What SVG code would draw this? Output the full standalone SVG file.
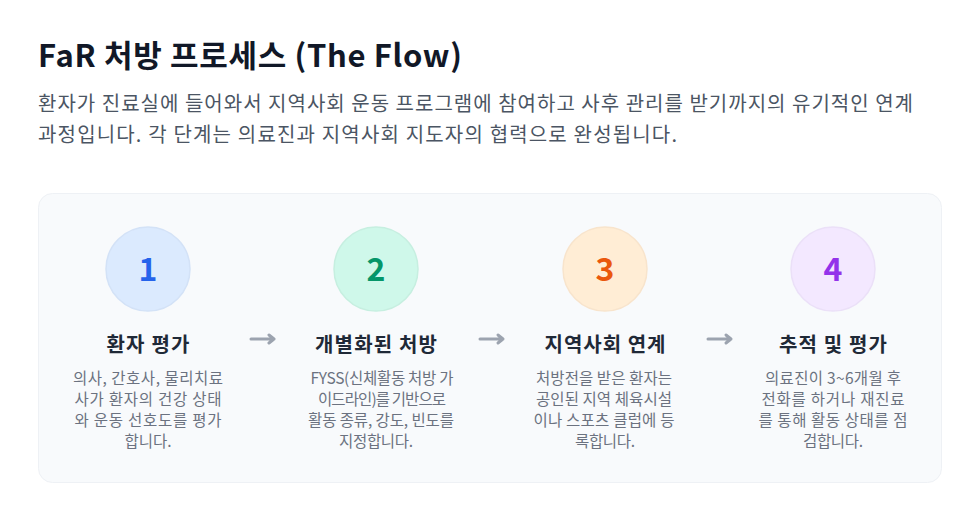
<svg xmlns="http://www.w3.org/2000/svg" width="975" height="507" viewBox="0 0 975 507">
<style>
text{font-family:"Noto Sans CJK KR","Noto Sans",sans-serif}
.h1{font-size:31px;font-weight:700;fill:#111827}
.sub{font-size:20px;fill:#4b5563}
.num{font-size:32px;font-weight:700;text-anchor:middle}
.tt{font-size:20px;font-weight:700;fill:#1f2937;text-anchor:middle}
.ds{font-size:15.5px;fill:#6b7280;text-anchor:middle}
.circ{stroke-width:1.5}
.arr{stroke:#9ca3af;stroke-width:3;fill:none;stroke-linecap:round;stroke-linejoin:round}
</style>
<rect width="975" height="507" fill="#ffffff"/>
<text class="h1" x="38" y="67" textLength="424" lengthAdjust="spacing">FaR 처방 프로세스 (The Flow)</text>
<text class="sub" x="38" y="111" textLength="875" lengthAdjust="spacing">환자가 진료실에 들어와서 지역사회 운동 프로그램에 참여하고 사후 관리를 받기까지의 유기적인 연계</text>
<text class="sub" x="38" y="142" textLength="639" lengthAdjust="spacing">과정입니다. 각 단계는 의료진과 지역사회 지도자의 협력으로 완성됩니다.</text>
<rect x="38.5" y="193.5" width="903" height="289" rx="14" fill="#f8fafc" stroke="#eef1f5"/>
<g id="step1">
<circle class="circ" cx="148" cy="269" r="42" fill="#dbeafe" stroke="#d3e2f7"/>
<text class="num" x="148" y="281" fill="#2563eb">1</text>
<text class="tt" x="148" y="352" textLength="83" lengthAdjust="spacing">환자 평가</text>
<text class="ds" x="148" y="384" textLength="150" lengthAdjust="spacing">의사, 간호사, 물리치료</text>
<text class="ds" x="148" y="405" textLength="147" lengthAdjust="spacing">사가 환자의 건강 상태</text>
<text class="ds" x="148" y="426" textLength="147" lengthAdjust="spacing">와 운동 선호도를 평가</text>
<text class="ds" x="148" y="447" textLength="47" lengthAdjust="spacing">합니다.</text>
</g>
<g id="step2">
<circle class="circ" cx="376" cy="269" r="42" fill="#cff8ea" stroke="#c6efe0"/>
<text class="num" x="376" y="281" fill="#059669">2</text>
<text class="tt" x="376" y="352" textLength="122" lengthAdjust="spacing">개별화된 처방</text>
<text class="ds" x="382" y="384" textLength="143" lengthAdjust="spacing">FYSS(신체활동 처방 가</text>
<text class="ds" x="382" y="405" textLength="128" lengthAdjust="spacing">이드라인)를 기반으로</text>
<text class="ds" x="381" y="426" textLength="146" lengthAdjust="spacing">활동 종류, 강도, 빈도를</text>
<text class="ds" x="376" y="447" textLength="74" lengthAdjust="spacing">지정합니다.</text>
</g>
<g id="step3">
<circle class="circ" cx="605" cy="269" r="42" fill="#ffedd5" stroke="#f8e4cc"/>
<text class="num" x="605" y="281" fill="#ea580c">3</text>
<text class="tt" x="605" y="352" textLength="121" lengthAdjust="spacing">지역사회 연계</text>
<text class="ds" x="604" y="384" textLength="136" lengthAdjust="spacing">처방전을 받은 환자는</text>
<text class="ds" x="604" y="405" textLength="136" lengthAdjust="spacing">공인된 지역 체육시설</text>
<text class="ds" x="604" y="426" textLength="141" lengthAdjust="spacing">이나 스포츠 클럽에 등</text>
<text class="ds" x="605" y="447" textLength="60" lengthAdjust="spacing">록합니다.</text>
</g>
<g id="step4">
<circle class="circ" cx="833" cy="269" r="42" fill="#f3e8ff" stroke="#ebe0f8"/>
<text class="num" x="833" y="281" fill="#9333ea">4</text>
<text class="tt" x="833" y="352" textLength="108" lengthAdjust="spacing">추적 및 평가</text>
<text class="ds" x="833" y="384" textLength="136" lengthAdjust="spacing">의료진이 3~6개월 후</text>
<text class="ds" x="833" y="405" textLength="143" lengthAdjust="spacing">전화를 하거나 재진료</text>
<text class="ds" x="833" y="426" textLength="149" lengthAdjust="spacing">를 통해 활동 상태를 점</text>
<text class="ds" x="833" y="447" textLength="60" lengthAdjust="spacing">검합니다.</text>
</g>
<g id="connectors">
<path class="arr" d="M251 339H274M269 335L274 339L269 343"/>
<path class="arr" d="M480 339H503M498 335L503 339L498 343"/>
<path class="arr" d="M708 339H731M726 335L731 339L726 343"/>
</g>
</svg>
